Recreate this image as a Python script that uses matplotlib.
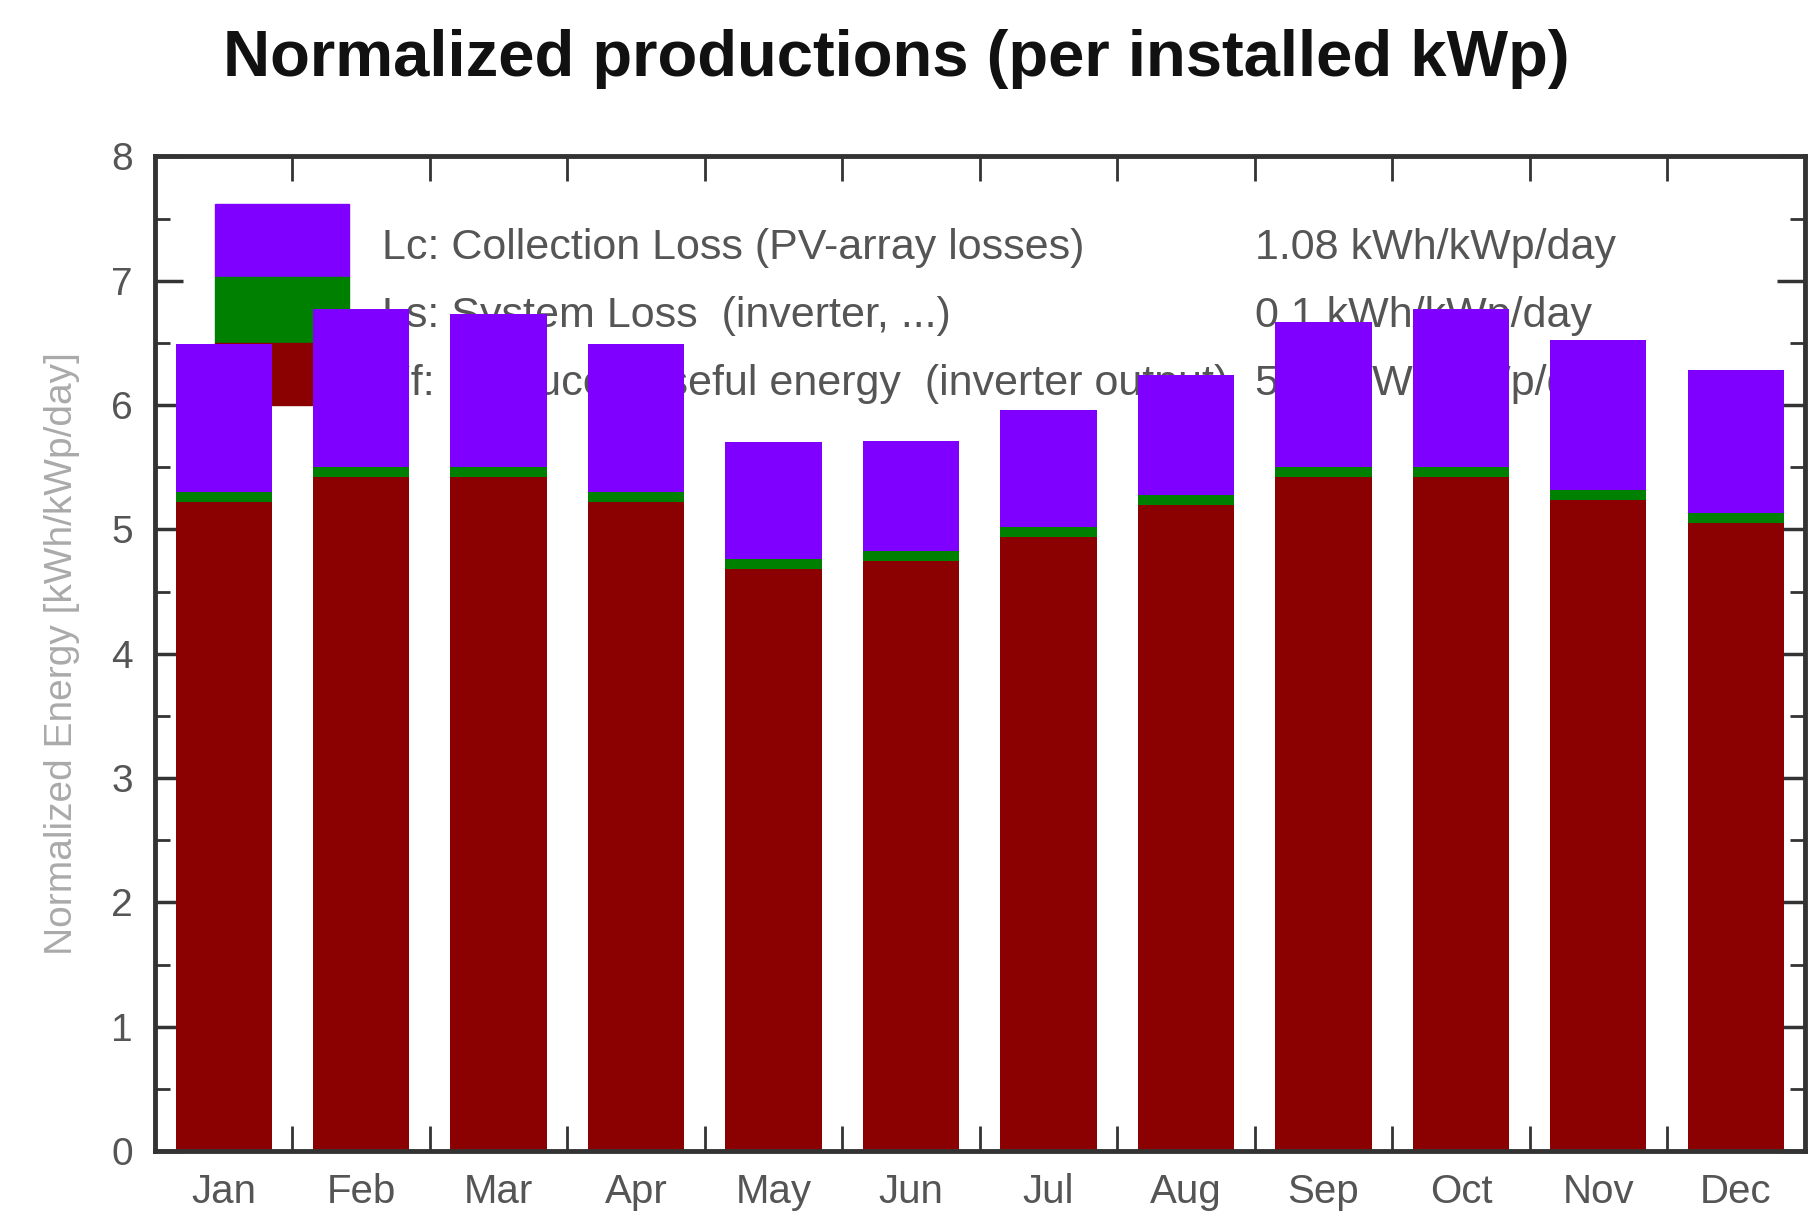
import numpy as np
import matplotlib
matplotlib.use("Agg")
import matplotlib.pyplot as plt
from matplotlib.patches import Rectangle

# monthly values [kWh/kWp/day]
months = ['Jan', 'Feb', 'Mar', 'Apr', 'May', 'Jun', 'Jul', 'Aug', 'Sep', 'Oct', 'Nov', 'Dec']
yf = [5.22, 5.42, 5.42, 5.22, 4.68, 4.75, 4.94, 5.20, 5.42, 5.42, 5.24, 5.05]
ls = [0.08, 0.08, 0.08, 0.08, 0.08, 0.08, 0.08, 0.08, 0.08, 0.08, 0.08, 0.08]
lc = [1.19, 1.27, 1.23, 1.19, 0.94, 0.88, 0.94, 0.96, 1.17, 1.27, 1.20, 1.15]

legend_labels = ['Lc: Collection Loss (PV-array losses)',
                 'Ls: System Loss  (inverter, ...)',
                 'Yf: Produced useful energy  (inverter output)']
legend_values = ['1.08 kWh/kWp/day', '0.1 kWh/kWp/day', '5.17 kWh/kWp/day']

c_lc = '#7f00ff'
c_ls = '#008000'
c_yf = '#8b0000'
txt = '#555555'

plt.rcParams['font.family'] = ['Liberation Sans', 'DejaVu Sans']

fig = plt.figure(figsize=(18.1, 12.22), dpi=100)
ax = fig.add_axes([0.0856, 0.058, 0.9114, 0.814])

x = np.arange(len(months))
yf = np.array(yf)
ls = np.array(ls)
lc = np.array(lc)

# legend block drawn under the bars, like in the original
ax.add_patch(Rectangle((-0.06, 7.03), 0.97, 0.59, color=c_lc, zorder=1))
ax.add_patch(Rectangle((-0.06, 6.50), 0.97, 0.53, color=c_ls, zorder=1))
ax.add_patch(Rectangle((-0.06, 6.00), 0.97, 0.50, color=c_yf, zorder=1))
for i, (lab, val) in enumerate(zip(legend_labels, legend_values)):
    yy = 7.26 - i * 0.545
    ax.text(1.15, yy, lab, fontsize=31, color=txt, va='center', zorder=1)
    ax.text(7.5, yy, val, fontsize=31, color=txt, va='center', zorder=1)

ax.bar(x, yf, width=0.70, color=c_yf, zorder=2)
ax.bar(x, ls, width=0.70, bottom=yf, color=c_ls, zorder=2)
ax.bar(x, lc, width=0.70, bottom=yf + ls, color=c_lc, zorder=2)

ax.set_xlim(-0.5, 11.5)
ax.set_ylim(0, 8)

ax.set_xticks(x)
ax.set_xticklabels(months)
ax.set_xticks(np.arange(0.5, 11, 1), minor=True)
ax.tick_params(axis='x', which='major', length=0, pad=16, labelsize=29, labelcolor=txt)
ax.tick_params(axis='x', which='minor', direction='in', length=18, width=2,
               top=True, bottom=True, color='#333333')

ax.set_yticks(np.arange(0, 9, 1))
ax.set_yticks(np.arange(0, 8.01, 0.5), minor=True)
ax.tick_params(axis='y', which='major', direction='in', length=20, width=2.5,
               left=True, right=True, labelsize=28, labelcolor=txt, pad=16, color='#333333')
ax.tick_params(axis='y', which='minor', direction='in', length=11, width=2,
               left=True, right=True, color='#333333')

for sp in ax.spines.values():
    sp.set_linewidth(3.5)
    sp.set_color('#333333')

ax.set_ylabel('Normalized Energy [kWh/kWp/day]', fontsize=28, color='#aaaaaa', labelpad=22)

fig.text(0.495, 0.952, 'Normalized productions (per installed kWp)', ha='center', va='center',
         fontsize=47, fontweight='bold', color='#111111')

fig.savefig('out.png', dpi=100)
